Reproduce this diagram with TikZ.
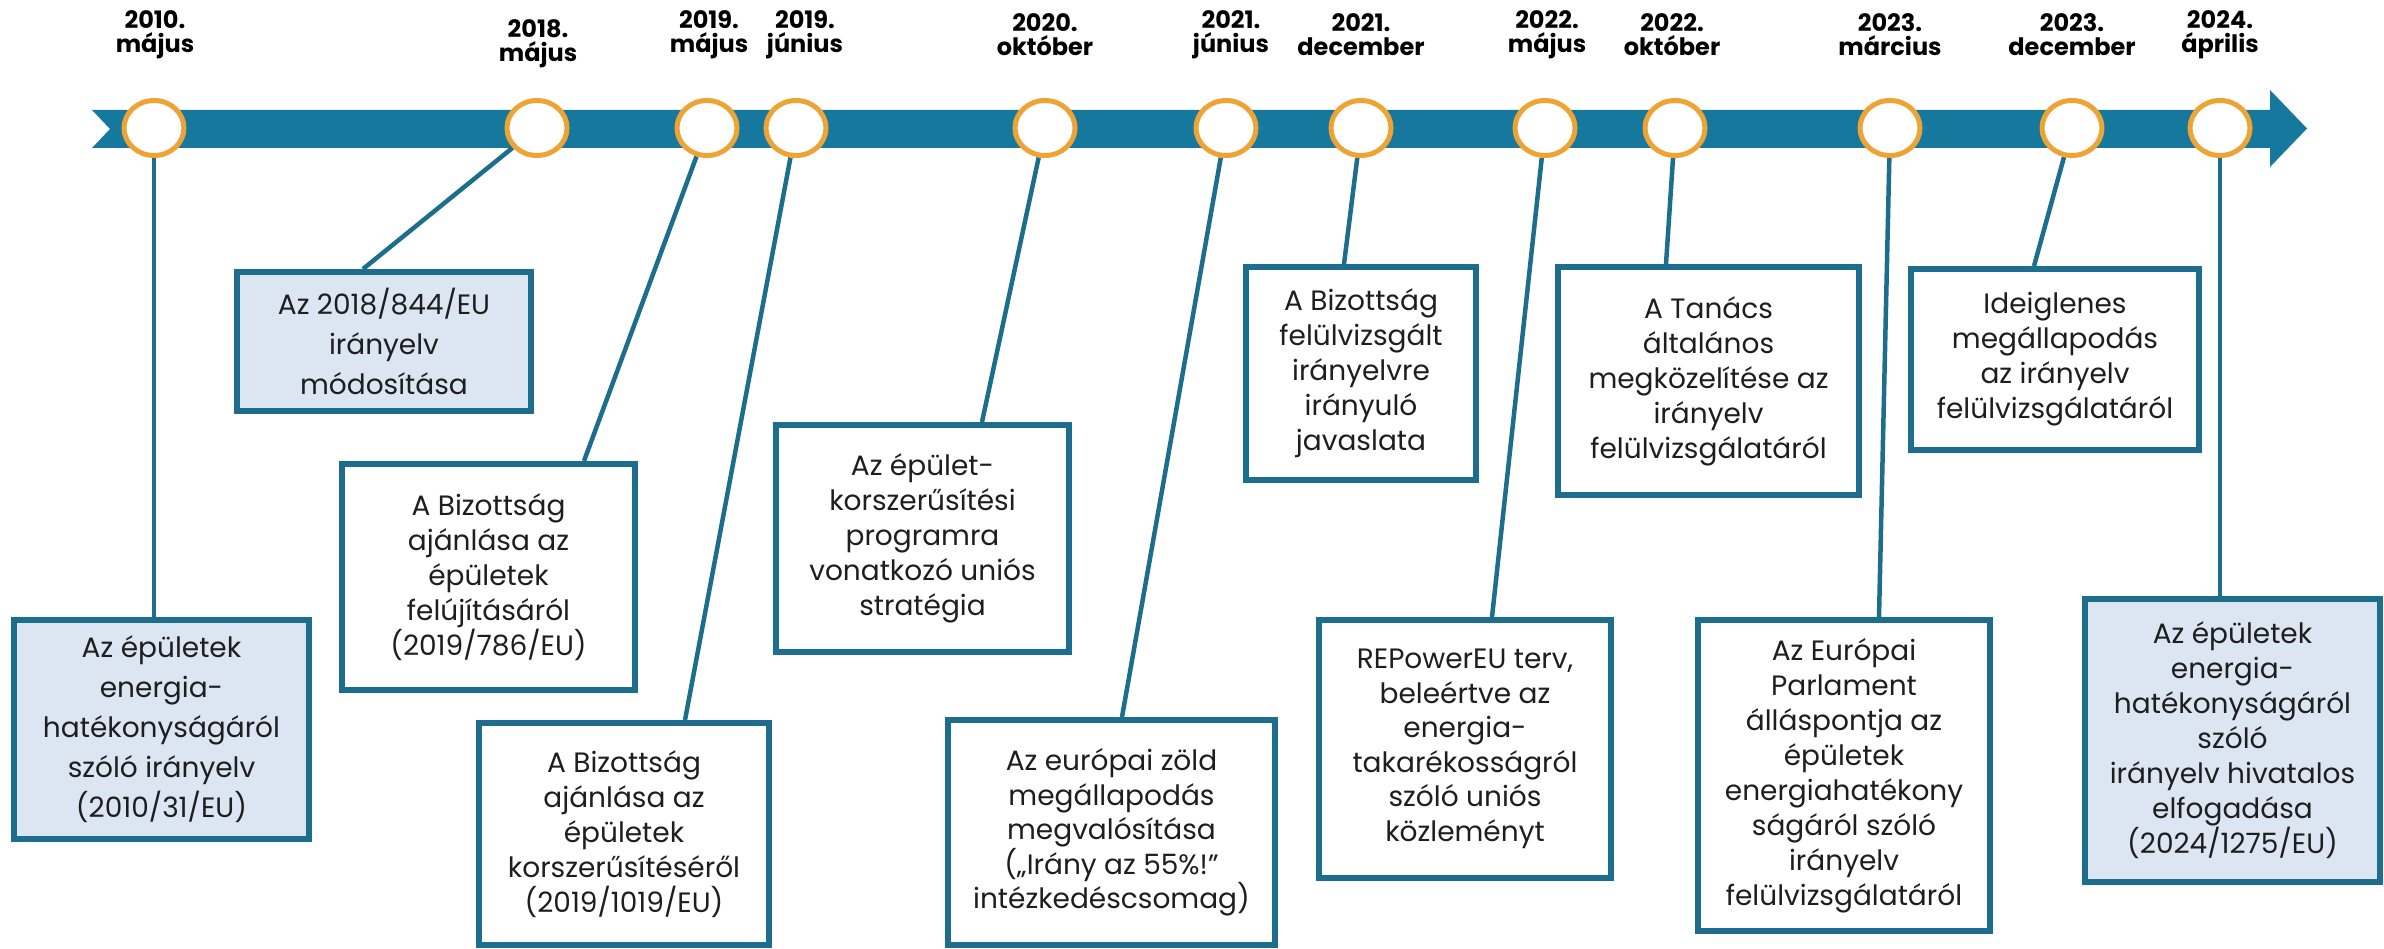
\documentclass[tikz,border=0pt]{standalone}
\usepackage{fontspec}
\setmainfont{Poppins}
\usetikzlibrary{shapes.geometric}
\definecolor{bandc}{RGB}{22,120,156}
\definecolor{bordc}{RGB}{28,110,140}
\definecolor{dotc}{RGB}{238,164,52}
\definecolor{boxblue}{RGB}{220,230,242}
\definecolor{txtc}{RGB}{30,30,30}
\pgfdeclarelayer{bg}
\pgfsetlayers{bg,main}
\newcommand\bxfont[1]{\fontsize{28}{#1}\selectfont}
\tikzset{
  box/.style={draw=bordc, line width=6pt, fill=white, align=center, inner sep=0pt, text=txtc},
  bluebox/.style={box, fill=boxblue},
  dot/.style={ellipse, draw=dotc, line width=5pt, fill=white, minimum width=60pt, minimum height=55pt, inner sep=0pt},
  datelbl/.style={align=center, font=\bfseries\fontsize{24}{24}\selectfont, inner sep=0pt, text=black},
  conn/.style={draw=bordc, line width=4.5pt}
}
\begin{document}
\begin{tikzpicture}[x=1pt,y=-1pt]
\useasboundingbox (0,0) rectangle (2384,949);
% date labels
\node[datelbl] (d1)  at (155,35)  {2010.\\május};
\node[datelbl] (d2)  at (538,44)  {2018.\\május};
\node[datelbl] (d3)  at (709,35)  {2019.\\május};
\node[datelbl] (d4)  at (805,35)  {2019.\\június};
\node[datelbl] (d5)  at (1045,35) {2020.\\október};
\node[datelbl] (d6)  at (1231,35) {2021.\\június};
\node[datelbl] (d7)  at (1361,35) {2021.\\december};
\node[datelbl] (d8)  at (1547,35) {2022.\\május};
\node[datelbl] (d9)  at (1672,35) {2022.\\október};
\node[datelbl] (d10) at (1890,35) {2023.\\március};
\node[datelbl] (d11) at (2072,35) {2023.\\december};
\node[datelbl] (d12) at (2220,35) {2024.\\április};
% circles
\node[dot] (c1)  at (154,128)  {};
\node[dot] (c2)  at (537,128)  {};
\node[dot] (c3)  at (707,128)  {};
\node[dot] (c4)  at (796,128)  {};
\node[dot] (c5)  at (1045,128) {};
\node[dot] (c6)  at (1226,128) {};
\node[dot] (c7)  at (1361,128) {};
\node[dot] (c8)  at (1545,128) {};
\node[dot] (c9)  at (1675,128) {};
\node[dot] (c10) at (1890,128) {};
\node[dot] (c11) at (2072,128) {};
\node[dot] (c12) at (2220,128) {};
% boxes
\node[bluebox, font=\bxfont{40}, minimum width=295pt, minimum height=219pt] (bA) at (161.5,729.5)
  {Az épületek\\energia-\\hatékonyságáról\\szóló irányelv\\(2010/31/EU)};
\node[bluebox, font=\bxfont{40}, minimum width=294pt, minimum height=139pt] (bB) at (384,341.5)
  {Az 2018/844/EU\\irányelv\\módosítása};
\node[box, font=\bxfont{35}, minimum width=293pt, minimum height=226pt] (bC) at (488.5,577)
  {A Bizottság\\ajánlása az\\épületek\\felújításáról\\(2019/786/EU)};
\node[box, font=\bxfont{35}, minimum width=290pt, minimum height=222pt] (bD) at (624,834)
  {A Bizottság\\ajánlása az\\épületek\\korszerűsítéséről\\(2019/1019/EU)};
\node[box, font=\bxfont{35}, minimum width=293pt, minimum height=227pt] (bE) at (922.5,538.5)
  {Az épület-\\korszerűsítési\\programra\\vonatkozó uniós\\stratégia};
\node[box, font=\bxfont{34.5}, minimum width=327pt, minimum height=225pt] (bF) at (1111.5,832.5)
  {Az európai zöld\\megállapodás\\megvalósítása\\(„Irány az 55\%!”\\intézkedéscsomag)};
\node[box, font=\bxfont{35}, minimum width=230pt, minimum height=213pt] (bG) at (1361,373.5)
  {A Bizottság\\felülvizsgált\\irányelvre\\irányuló\\javaslata};
\node[box, font=\bxfont{34.5}, minimum width=292pt, minimum height=258pt] (bH) at (1465,749)
  {REPowerEU terv,\\beleértve az\\energia-\\takarékosságról\\szóló uniós\\közleményt};
\node[box, font=\bxfont{35}, minimum width=301pt, minimum height=228pt] (bI) at (1708.5,381)
  {A Tanács\\általános\\megközelítése az\\irányelv\\felülvizsgálatáról};
\node[box, font=\bxfont{35}, minimum width=292pt, minimum height=311pt] (bK) at (1844,775.5)
  {Az Európai\\Parlament\\álláspontja az\\épületek\\energiahatékony\\ságáról szóló\\irányelv\\felülvizsgálatáról};
\node[box, font=\bxfont{35}, minimum width=288pt, minimum height=181pt] (bJ) at (2055,359.5)
  {Ideiglenes\\megállapodás\\az irányelv\\felülvizsgálatáról};
\node[bluebox, font=\bxfont{35}, minimum width=295pt, minimum height=283pt] (bL) at (2232.5,740.5)
  {Az épületek\\energia-\\hatékonyságáról\\szóló\\irányelv hivatalos\\elfogadása\\(2024/1275/EU)};
\begin{pgfonlayer}{bg}
  % timeline band with notched tail and arrow head
  \fill[bandc] (92,110) -- (2270,110) -- (2270,90) -- (2307,128.5) -- (2270,167)
     -- (2270,148) -- (92,148) -- (110,129) -- cycle;
  % connectors
  \draw[conn] (c1) -- (c1 |- bA.north);
  \draw[conn] ([xshift=-21pt]bB.north) -- (c2);
  \draw[conn] ([xshift=95.5pt]bC.north) -- (c3);
  \draw[conn] ([xshift=61pt]bD.north) -- (c4);
  \draw[conn] ([xshift=59.5pt]bE.north) -- (c5);
  \draw[conn] ([xshift=10.5pt]bF.north) -- (c6);
  \draw[conn] ([xshift=-17pt]bG.north) -- (c7);
  \draw[conn] ([xshift=27pt]bH.north) -- (c8);
  \draw[conn] ([xshift=-42.5pt]bI.north) -- (c9);
  \draw[conn] ([xshift=35pt]bK.north) -- (c10);
  \draw[conn] ([xshift=-21pt]bJ.north) -- (c11);
  \draw[conn] (c12) -- (c12 |- bL.north);
\end{pgfonlayer}
\end{tikzpicture}
\end{document}
